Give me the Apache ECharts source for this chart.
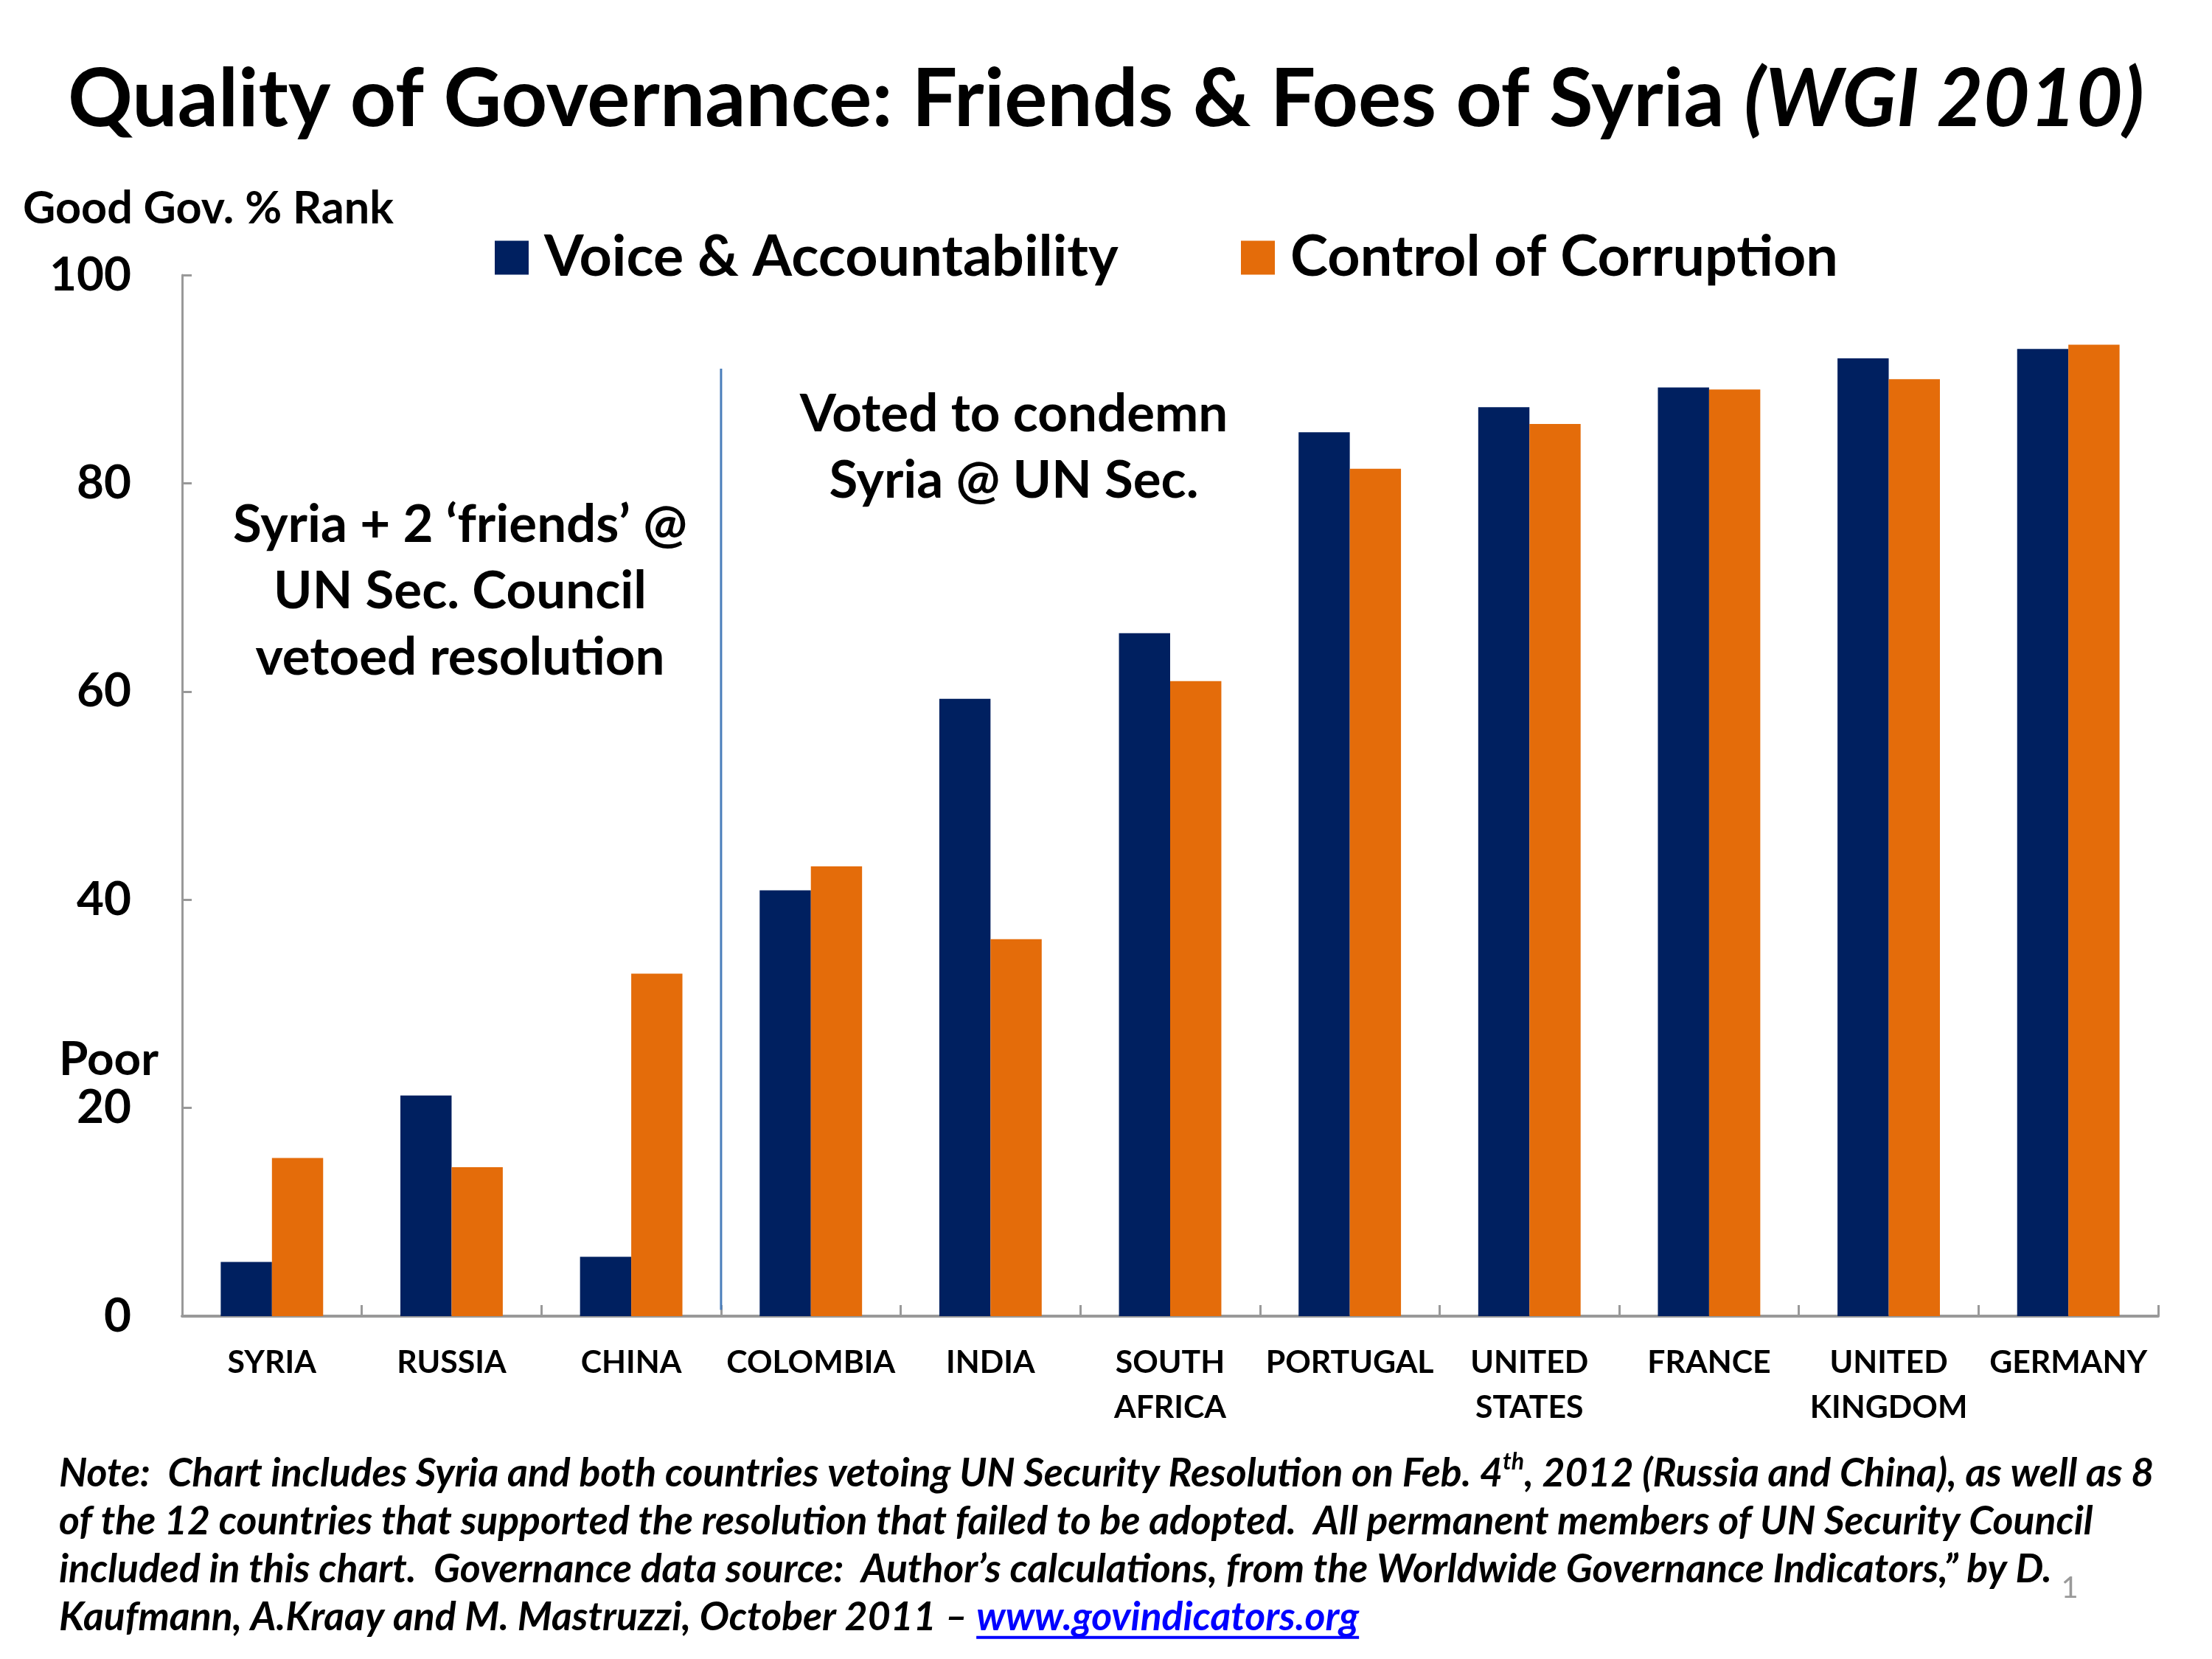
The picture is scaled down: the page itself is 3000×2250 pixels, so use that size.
<!DOCTYPE html>
<html><head><meta charset="utf-8">
<script src="https://cdn.jsdelivr.net/npm/echarts@6.0.0/dist/echarts.min.js"></script>
<style>html,body{margin:0;padding:0;background:#fff}#c{width:3000px;height:2250px}</style>
</head><body><div id="c"></div>
<script>
const categories = ['SYRIA','RUSSIA','CHINA','COLOMBIA','INDIA','SOUTH\nAFRICA','PORTUGAL','UNITED\nSTATES','FRANCE','UNITED\nKINGDOM','GERMANY'];
const voiceAccountability = [5.2, 21.2, 5.7, 40.9, 59.3, 65.6, 84.9, 87.3, 89.2, 92.0, 92.9];
const controlCorruption = [15.2, 14.3, 32.9, 43.2, 36.2, 61.0, 81.4, 85.7, 89.0, 90.0, 93.3];
const yTickLabels = [0, 20, 40, 60, 80, 100];
const dividerX = [2.5, 2.5];
const dividerY = [0.6, 91];
const seriesNames = ['Voice & Accountability', 'Control of Corruption'];

const FONT = 'Lato';
const NAVY = '#002060', ORANGE = '#E46C0A';
const cv = document.createElement('canvas').getContext('2d');
function w(text, style, size) { cv.font = style + ' bold ' + size + 'px ' + FONT; return cv.measureText(text).width; }
function fit(text, style, target) { return 100 * target / w(text, style, 100); }

const titleA = 'Quality of Governance: Friends & Foes of Syria ';
const titleB = '(WGI 2010)';
const titleSize = 100 * 2816 / (w(titleA, 'normal', 100) + w(titleB, 'italic', 100));
const legendSize = fit(seriesNames[0], 'normal', 779);
const annSize = fit('Syria + 2 \u2018friends\u2019 @', 'normal', 616);
const catSize = fit('PORTUGAL', 'normal', 228);
const ySize = fit('100', 'normal', 111);
const goodSize = fit('Good Gov. % Rank', 'normal', 503);
const noteSize = fit('of the 12 countries that supported the resolution that failed to be adopted.  All permanent members of UN Security Council', 'italic', 2759);

const note1a = 'Note:  Chart includes Syria and both countries vetoing UN Security Resolution on Feb. 4';
const note1b = 'th';
const note1c = ', 2012 (Russia and China), as well as 8';
const note2 = 'of the 12 countries that supported the resolution that failed to be adopted.  All permanent members of UN Security Council';
const note3 = 'included in this chart.  Governance data source:  Author\u2019s calculations, from the Worldwide Governance Indicators,\u201d by D.';
const note4 = 'Kaufmann, A.Kraay and M. Mastruzzi, October 2011 \u2013 ';
const link = 'www.govindicators.org';
const noteX = 80;
const linkX = noteX + w(note4, 'italic', noteSize);
const linkW = w(link, 'italic', noteSize);

const chart = echarts.init(document.getElementById('c'), null, {renderer: 'canvas'});
const noteStyle = {fontFamily: FONT, fontWeight: 'bold', fontStyle: 'italic', fontSize: noteSize, fill: '#000', textVerticalAlign: 'middle'};

chart.setOption({
  backgroundColor: '#fff',
  animation: false,
  textStyle: {fontFamily: FONT},
  grid: {left: 247, right: 73, top: 373, bottom: 465, containLabel: false},
  legend: [
    {data: [seriesNames[0]], left: 666, top: 306, itemWidth: 46, itemHeight: 46, icon: 'rect',
     textStyle: {fontSize: legendSize, fontWeight: 'bold', color: '#000', padding: [0, 0, 0, 16]}},
    {data: [seriesNames[1]], left: 1678, top: 306, itemWidth: 46, itemHeight: 46, icon: 'rect',
     textStyle: {fontSize: legendSize, fontWeight: 'bold', color: '#000', padding: [0, 0, 0, 16]}}
  ],
  xAxis: [
    {type: 'category', data: categories,
     axisLine: {lineStyle: {color: '#999', width: 4}},
     axisTick: {show: true, inside: true, length: 15, lineStyle: {color: '#999', width: 3}},
     axisLabel: {fontSize: catSize, fontWeight: 'bold', color: '#000', margin: 33, lineHeight: 61, interval: 0}},
    {type: 'value', min: -0.5, max: 10.5, show: false}
  ],
  yAxis: {type: 'value', min: 0, max: 100, interval: 20,
    axisLine: {show: true, onZero: false, lineStyle: {color: '#999', width: 3}},
    axisTick: {show: true, inside: true, length: 13, lineStyle: {color: '#999', width: 3}},
    splitLine: {show: false},
    axisLabel: {fontSize: ySize, fontWeight: 'bold', color: '#000', margin: 69,
      formatter: v => yTickLabels.includes(v) ? String(v) : ''}},
  series: [
    {name: seriesNames[0], type: 'bar', data: voiceAccountability, itemStyle: {color: NAVY},
     barGap: '0%', barCategoryGap: '43%'},
    {name: seriesNames[1], type: 'bar', data: controlCorruption, itemStyle: {color: ORANGE},
     barGap: '0%', barCategoryGap: '43%'},
    {type: 'line', xAxisIndex: 1, data: [[dividerX[0], dividerY[0]], [dividerX[1], dividerY[1]]],
     symbol: 'none', silent: true, lineStyle: {color: '#4A7EBB', width: 3}, z: 1}
  ],
  graphic: [
    {type: 'text', left: 'center', top: 149 - titleSize * 0.62, style: {
      text: '{a|' + titleA + '}{b|' + titleB + '}',
      rich: {a: {fontFamily: FONT, fontWeight: 'bold', fontSize: titleSize, fill: '#000'},
             b: {fontFamily: FONT, fontWeight: 'bold', fontStyle: 'italic', fontSize: titleSize, fill: '#000'}}}},
    {type: 'text', x: 31, y: 283, style: {text: 'Good Gov. % Rank', fontFamily: FONT, fontWeight: 'bold', fontSize: goodSize, fill: '#000', textVerticalAlign: 'middle'}},
    {type: 'text', x: 80, y: 1437, style: {text: 'Poor', fontFamily: FONT, fontWeight: 'bold', fontSize: ySize, fill: '#000', textVerticalAlign: 'middle'}},
    {type: 'text', x: 624, y: 712, style: {text: 'Syria + 2 \u2018friends\u2019 @', fontFamily: FONT, fontWeight: 'bold', fontSize: annSize, fill: '#000', textAlign: 'center', textVerticalAlign: 'middle'}},
    {type: 'text', x: 624, y: 802, style: {text: 'UN Sec. Council', fontFamily: FONT, fontWeight: 'bold', fontSize: annSize, fill: '#000', textAlign: 'center', textVerticalAlign: 'middle'}},
    {type: 'text', x: 624, y: 892, style: {text: 'vetoed resolution', fontFamily: FONT, fontWeight: 'bold', fontSize: annSize, fill: '#000', textAlign: 'center', textVerticalAlign: 'middle'}},
    {type: 'text', x: 1375, y: 562, style: {text: 'Voted to condemn', fontFamily: FONT, fontWeight: 'bold', fontSize: annSize, fill: '#000', textAlign: 'center', textVerticalAlign: 'middle'}},
    {type: 'text', x: 1375, y: 652, style: {text: 'Syria @ UN Sec.', fontFamily: FONT, fontWeight: 'bold', fontSize: annSize, fill: '#000', textAlign: 'center', textVerticalAlign: 'middle'}},
    {type: 'text', x: noteX, y: 1999 - noteSize * 0.6, style: {
      text: '{n|' + note1a + '}{s|' + note1b + '}{n|' + note1c + '}',
      rich: {n: {fontFamily: FONT, fontWeight: 'bold', fontStyle: 'italic', fontSize: noteSize, fill: '#000', lineHeight: noteSize * 1.2},
             s: {fontFamily: FONT, fontWeight: 'bold', fontStyle: 'italic', fontSize: noteSize * 0.6, fill: '#000', verticalAlign: 'top', lineHeight: noteSize * 1.2, padding: [0, 0, noteSize * 0.35, 0]}}}},
    {type: 'text', x: noteX, y: 2064, style: Object.assign({text: note2}, noteStyle)},
    {type: 'text', x: noteX, y: 2129, style: Object.assign({text: note3}, noteStyle)},
    {type: 'text', x: noteX, y: 2194, style: Object.assign({text: note4}, noteStyle)},
    {type: 'text', x: linkX, y: 2194, style: Object.assign({}, noteStyle, {text: link, fill: '#0000FF'})},
    {type: 'line', shape: {x1: linkX, y1: 2194 + noteSize * 0.5, x2: linkX + linkW, y2: 2194 + noteSize * 0.5}, style: {stroke: '#0000FF', lineWidth: 4}},
    {type: 'text', x: 2807, y: 2154, style: {text: '1', fontFamily: FONT, fontSize: 40, fill: '#999', textAlign: 'center', textVerticalAlign: 'middle'}}
  ]
});
</script></body></html>
